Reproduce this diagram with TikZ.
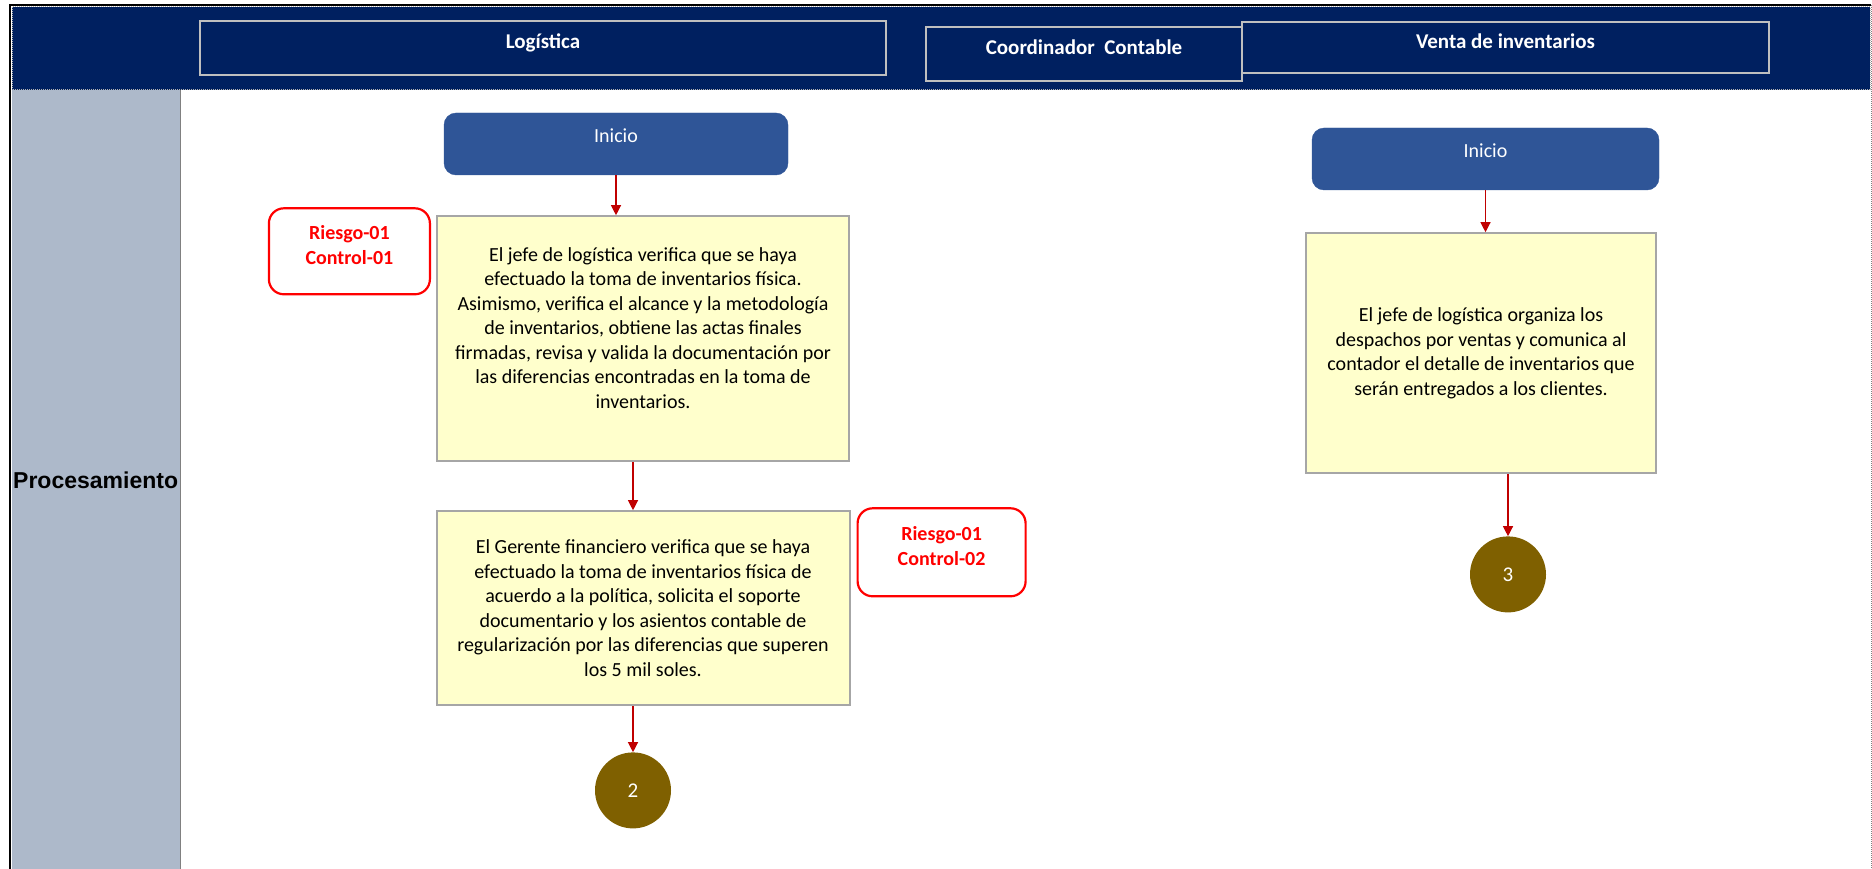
\documentclass[tikz,border=0pt]{standalone}
\usepackage{fontspec}
\setmainfont{Carlito}
\newfontfamily\arialfont{Liberation Sans}
\usetikzlibrary{positioning, arrows.meta}

\definecolor{azulcab}{HTML}{002060}
\definecolor{grislane}{HTML}{ADB9CA}
\definecolor{azulini}{HTML}{2F5597}
\definecolor{amarillo}{HTML}{FFFFCC}
\definecolor{bordegris}{HTML}{A6A6A6}
\definecolor{conector}{HTML}{7F6000}
\definecolor{rojoflecha}{HTML}{C00000}

\begin{document}
\begin{tikzpicture}[x=1pt, y=-1pt,
    cab/.style={draw=gray!50, line width=1.5pt, text=white, font=\bfseries\fontsize{21}{25}\selectfont, text depth=13pt},
    inicio/.style={rounded corners=12pt, fill=azulini, draw=azulini, text=white, minimum width=344pt, minimum height=62pt, font=\fontsize{20}{24}\selectfont, text depth=16pt},
    proc/.style={draw=bordegris, line width=2pt, fill=amarillo, align=center, font=\fontsize{20}{24.5}\selectfont},
    riesgo/.style={draw=red, line width=2.2pt, rounded corners=15pt, text=red, align=center, font=\bfseries\fontsize{20}{25}\selectfont, text depth=12pt},
    conec/.style={circle, fill=conector, text=white, minimum size=76pt, inner sep=0pt, font=\fontsize{21}{24}\selectfont},
    flecha/.style={draw=rojoflecha, line width=1.2pt, -{Triangle[width=10pt,length=10pt]}}
  ]
  \useasboundingbox (0,0) rectangle (1872,869);

  \draw[gray!60, densely dotted, line width=1pt, fill=azulcab] (12,7) rectangle (1870,90);
  \fill[grislane] (12,90) rectangle (180,869);
  \draw[gray, line width=1pt] (180,90) -- (180,869);
  \draw[line width=1.5pt] (10,869) -- (10,5) -- (1871,5);
  \draw[gray, densely dotted, line width=1pt] (1871,5) -- (1871,869);

  \node[cab, minimum width=686pt, minimum height=54pt] (logis) at (543,48) {Logística};
  \node[cab, minimum width=316pt, minimum height=54pt] (coord) at (1084,54) {Coordinador\ \ Contable};
  \node[cab, minimum width=527pt, minimum height=51pt] (venta) at (1505.5,47.5) {Venta de inventarios};

  \node[anchor=base west, inner sep=0pt, font=\arialfont\bfseries\fontsize{23}{28}\selectfont] (fase) at (13,488) {Procesamiento};

  \node[inicio] (inicioA) at (616,144) {Inicio};
  \node[proc, minimum width=412pt, minimum height=245pt, text depth=22pt, below=40pt of inicioA, xshift=27pt] (revA) {El jefe de logística verifica que se haya\\
    efectuado la toma de inventarios física.\\
    Asimismo, verifica el alcance y la metodología\\
    de inventarios, obtiene las actas finales\\
    firmadas, revisa y valida la documentación por\\
    las diferencias encontradas en la toma de\\
    inventarios.};
  \node[proc, minimum width=413pt, minimum height=194pt, below=48pt of revA] (revB) {El Gerente financiero verifica que se haya\\
    efectuado la toma de inventarios física de\\
    acuerdo a la política, solicita el soporte\\
    documentario y los asientos contable de\\
    regularización por las diferencias que superen\\
    los 5 mil soles.};
  \node[conec, below=46pt of revB, xshift=-10pt] (conA) {2};
  \node[riesgo, minimum width=161pt, minimum height=86pt, anchor=north east] (riesgoA) at ([xshift=-5pt, yshift=8pt]revA.north west) {Riesgo-01\\Control-01};
  \node[riesgo, minimum width=168pt, minimum height=88pt, anchor=north west] (riesgoB) at ([xshift=6pt, yshift=3pt]revB.north east) {Riesgo-01\\Control-02};

  \node[inicio, minimum width=347pt] (inicioB) at (1485.5,159) {Inicio};
  \node[proc, minimum width=350pt, minimum height=240pt, below=42pt of inicioB, xshift=-4.5pt] (revC) {El jefe de logística organiza los\\
    despachos por ventas y comunica al\\
    contador el detalle de inventarios que\\
    serán entregados a los clientes.};
  \node[conec, below=62pt of revC, xshift=27pt] (conB) {3};

  \draw[flecha] (inicioA.south) -- (inicioA.south |- revA.north);
  \draw[flecha] (revA.south -| conA.north) -- (revB.north -| conA.north);
  \draw[flecha] (revB.south -| conA.north) -- (conA.north);
  \draw[flecha] (inicioB.south) -- (inicioB.south |- revC.north);
  \draw[flecha] (revC.south -| conB.north) -- (conB.north);

\end{tikzpicture}
\end{document}
